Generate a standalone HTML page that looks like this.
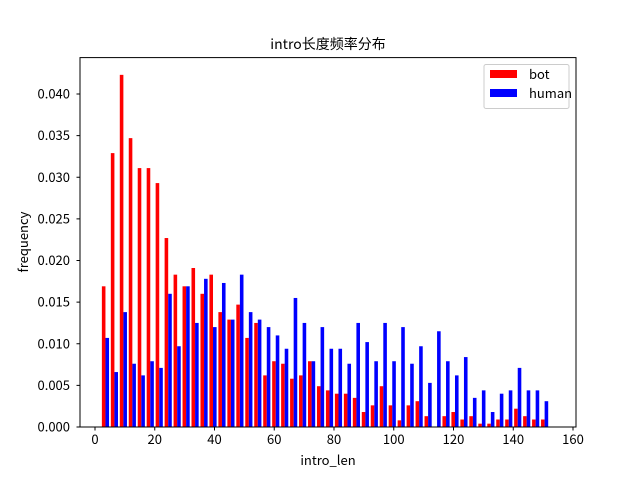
<!DOCTYPE html>
<html><head><meta charset="utf-8"><style>
body{margin:0;background:#fff}
svg text{font-family:"WenQuanYi Zen Hei","Noto Sans CJK SC",sans-serif;font-size:13px;fill:#000}
</style></head><body>
<svg id="chart" width="640" height="480">
<rect width="640" height="480" fill="#fff"/>
<text x="328" y="49" text-anchor="middle" style="font-size:14px">intro长度频率分布</text>
<g id="bars"></g>
<rect x="80" y="57.6" width="496" height="369.4" fill="none" stroke="#000" stroke-width="1"/>
<g id="axes"></g>
<text x="328" y="465" text-anchor="middle">intro_len</text>
<text transform="translate(28,242) rotate(-90)" text-anchor="middle">frequency</text>
<g>
<rect x="484" y="64.5" width="85" height="44" rx="2" fill="#fff" stroke="#ccc"/>
<rect x="490" y="70" width="27" height="8" fill="#ff0000"/>
<text x="529" y="79">bot</text>
<rect x="490" y="89" width="27" height="8" fill="#0000ff"/>
<text x="529" y="98">human</text>
</g>
</svg>
<script>
const binStart = 2;
const binWidth = 3;
const botValues = [0.0169,0.0329,0.0423,0.0347,0.0311,0.0311,0.0293,0.0227,0.0183,0.0169,0.0191,0.0160,0.0183,0.0138,0.0129,0.0147,0.0107,0.0125,0.0062,0.0079,0.0076,0.0058,0.0062,0.0079,0.0049,0.0044,0.0040,0.0040,0.0035,0.0018,0.0026,0.0049,0.0026,0.0008,0.0026,0.0031,0.0013,0,0.0013,0.0018,0.0009,0.0013,0.0004,0.0004,0.0009,0.0009,0.0022,0.0013,0.0009,0.0009];
const humanValues = [0.0107,0.0066,0.0138,0.0076,0.0062,0.0079,0.0071,0.0160,0.0097,0.0169,0.0125,0.0178,0.0120,0.0173,0.0129,0.0183,0.0138,0.0129,0.0120,0.0110,0.0094,0.0155,0.0125,0.0079,0.0120,0.0094,0.0094,0.0076,0.0125,0.0102,0.0079,0.0125,0.0079,0.0120,0.0076,0.0097,0.0053,0.0115,0.0079,0.0062,0.0084,0.0035,0.0044,0.0018,0.0040,0.0044,0.0071,0.0044,0.0044,0.0031];
const xTicks = [0,20,40,60,80,100,120,140,160];
const yTicks = [0,0.005,0.010,0.015,0.020,0.025,0.030,0.035,0.040];
const yTickLabels = ["0.000","0.005","0.010","0.015","0.020","0.025","0.030","0.035","0.040"];

const NS="http://www.w3.org/2000/svg";
function xs(v){return 95+v*(478/160);}
function ys(v){return 427-v*(333/0.040);}
const bars=document.getElementById('bars');
const axes=document.getElementById('axes');
function mk(tag,attrs,parent){const e=document.createElementNS(NS,tag);for(const k in attrs)e.setAttribute(k,attrs[k]);parent.appendChild(e);return e;}
for(let i=0;i<botValues.length;i++){
  const b0=binStart+i*binWidth;
  const w=binWidth*0.4;
  const r=mk('rect',{x:xs(b0+binWidth*0.1),y:ys(botValues[i]),width:xs(b0+w)-xs(b0),height:427-ys(botValues[i]),fill:'#ff0000'},bars);
  
  
  const h=mk('rect',{x:xs(b0+binWidth*0.5),y:ys(humanValues[i]),width:xs(b0+w)-xs(b0),height:427-ys(humanValues[i]),fill:'#0000ff'},bars);
  
  
}
xTicks.forEach(t=>{
  const l=mk('line',{x1:xs(t),x2:xs(t),y1:427,y2:430.5,stroke:'#000'},axes);
  
  
  const tx=mk('text',{x:xs(t),y:444,'text-anchor':'middle'},axes);
  tx.textContent=t;
  
  
});
yTicks.forEach((t,i)=>{
  const l=mk('line',{x1:76.5,x2:80,y1:ys(t),y2:ys(t),stroke:'#000'},axes);
  
  
  const tx=mk('text',{x:70,y:ys(t)+4.5,'text-anchor':'end'},axes);
  tx.textContent=yTickLabels[i];
  
  
});
</script>
</body></html>
